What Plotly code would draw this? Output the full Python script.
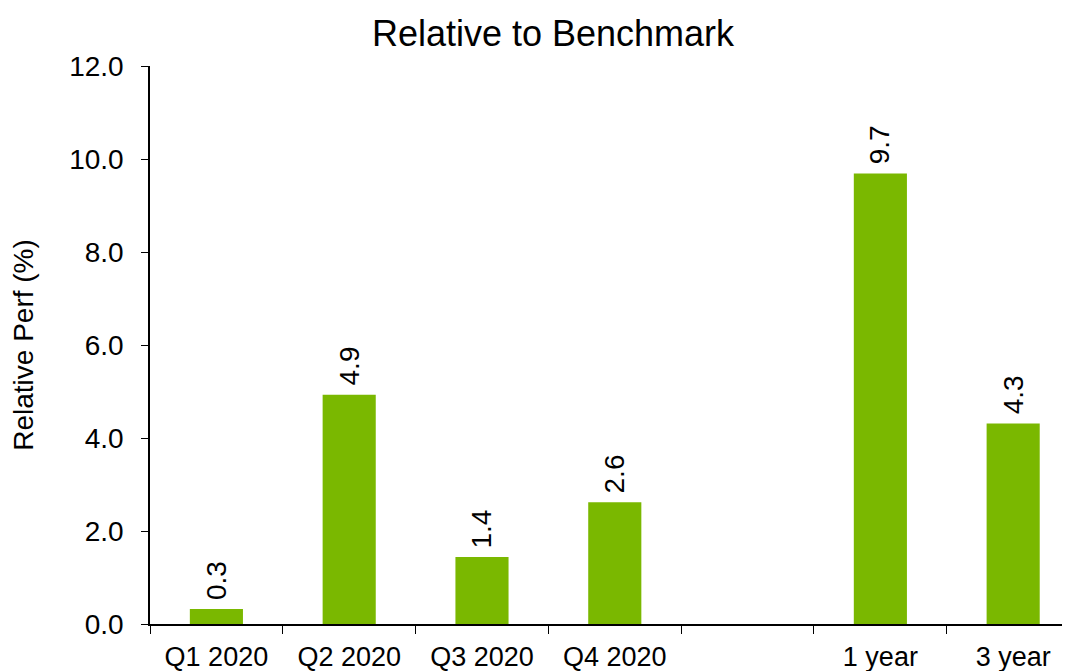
import plotly.graph_objects as go

categories = ["Q1 2020", "Q2 2020", "Q3 2020", "Q4 2020", " ", "1 year", "3 year"]
values = [0.32, 4.93, 1.44, 2.62, None, 9.69, 4.31]
labels = ["0.3", "4.9", "1.4", "2.6", "", "9.7", "4.3"]
y_ticks = [0, 2, 4, 6, 8, 10, 12]

FONT = "Liberation Sans, Arial, sans-serif"
GREEN = "#7AB800"

fig = go.Figure()
fig.add_trace(go.Bar(
    x=categories,
    y=values,
    marker=dict(color=GREEN, line=dict(width=0)),
    width=0.4,
    hoverinfo="x+y",
))

for c, v, t in zip(categories, values, labels):
    if v is None:
        continue
    fig.add_annotation(
        x=c, y=v, text=t, showarrow=False,
        textangle=-90, xanchor="center", yanchor="bottom",
        yshift=7, font=dict(family=FONT, size=28, color="black"),
    )

fig.update_layout(
    width=1070, height=671,
    paper_bgcolor="white", plot_bgcolor="white",
    margin=dict(l=142, r=8, t=58, b=55, autoexpand=False),
    showlegend=False,
    font=dict(family=FONT, size=28, color="black"),
    title=dict(
        text="Relative to Benchmark",
        x=545 / 1070, xanchor="center", xref="container",
        y=1 - 25 / 671, yanchor="middle", yref="container",
        font=dict(family=FONT, size=36, color="black"),
    ),
    bargap=0.6,
)

fig.update_xaxes(
    type="category",
    range=[-0.5, 6.428],
    showline=True, linecolor="black", linewidth=1.5,
    ticks="outside", tickson="boundaries", ticklen=8, tickcolor="black", tickwidth=1,
    showgrid=False, zeroline=False,
    tickfont=dict(family=FONT, size=27, color="black"),
    ticklabelstandoff=8,
    automargin=False,
)

fig.update_yaxes(
    range=[0, 12],
    tickvals=y_ticks,
    tickformat=".1f",
    showline=True, linecolor="black", linewidth=1.5,
    ticks="outside", ticklen=7, tickcolor="black", tickwidth=1,
    showgrid=False, zeroline=False,
    tickfont=dict(family=FONT, size=28, color="black"),
    ticklabelstandoff=12,
    automargin=False,
    title=dict(text="Relative Perf (%)", standoff=28,
               font=dict(family=FONT, size=28, color="black")),
)

fig.write_html("out.html")
